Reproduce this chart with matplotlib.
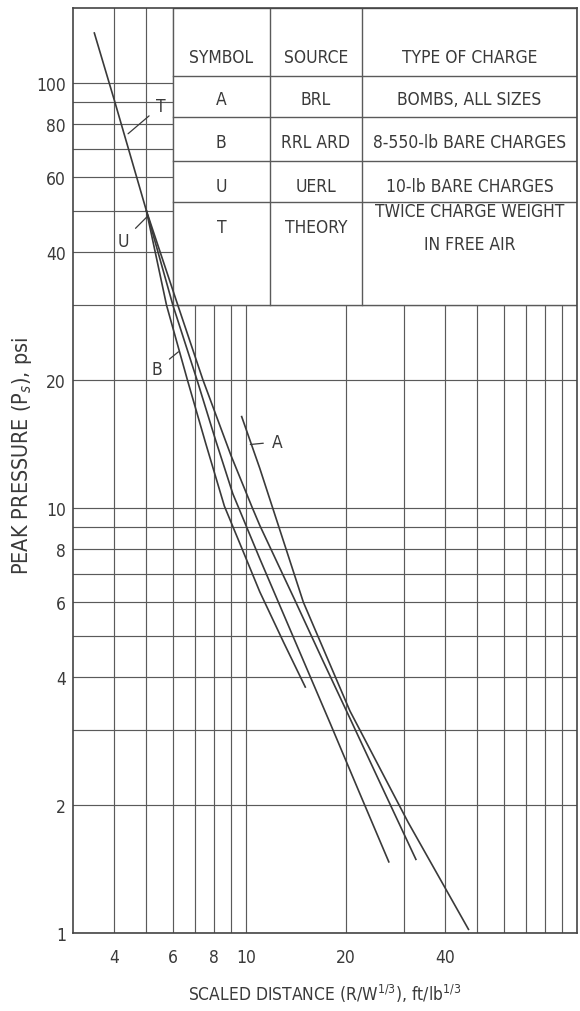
import matplotlib
matplotlib.use("Agg")
import matplotlib.pyplot as plt
import numpy as np

# scaled distance (ft/lb^1/3) and peak pressure (psi)
dist_T = [3.48, 4.0, 5.0, 6.22, 7.41, 9.0, 10.45, 11.0, 14.0, 17.0, 20.6, 26.0, 32.6]
pres_T = [131, 91, 50, 30, 20, 13.3, 10.0, 9.1, 6.1, 4.4, 3.2, 2.17, 1.49]

dist_U = [5.0, 6.01, 7.11, 8.1, 9.12, 11.0, 14.0, 18.0, 22.0, 27.0]
pres_U = [50, 30, 20, 14.4, 10.8, 7.6, 4.9, 3.1, 2.14, 1.47]

dist_B = [5.0, 5.75, 6.65, 7.55, 8.6, 9.8, 11.0, 13.0, 15.1]
pres_B = [50, 30, 20, 14.2, 10.1, 7.9, 6.35, 4.82, 3.79]

dist_A = [9.7, 11.0, 14.9, 20.6, 30.9, 47.0]
pres_A = [16.4, 12.4, 6.0, 3.33, 1.82, 1.02]

curves = [(dist_T, pres_T), (dist_U, pres_U), (dist_B, pres_B), (dist_A, pres_A)]

# curve labels: (text, text position, leader tip)
curve_labels = [
    ("T", (5.53, 88.3), (4.40, 75.9)),
    ("U", (4.25, 42.5), (5.06, 48.7)),
    ("B", (5.38, 21.2), (6.25, 23.3)),
    ("A", (12.4, 14.3), (10.3, 14.1)),
]

x_ticks = [4, 6, 8, 10, 20, 40]
y_ticks = [1, 2, 4, 6, 8, 10, 20, 40, 60, 80, 100]

table_rows = [
    ("SYMBOL", "SOURCE", "TYPE OF CHARGE"),
    ("A", "BRL", "BOMBS, ALL SIZES"),
    ("B", "RRL ARD", "8-550-lb BARE CHARGES"),
    ("U", "UERL", "10-lb BARE CHARGES"),
    ("T", "THEORY", "TWICE CHARGE WEIGHT\nIN FREE AIR"),
]

INK = "#3a3a3a"
GRID = "#5a5a5a"
plt.rcParams["font.family"] = ["DejaVu Sans"]
plt.rcParams["font.stretch"] = "condensed"
plt.rcParams["mathtext.fontset"] = "dejavusans"
FS = 12.5

fig = plt.figure(figsize=(5.8, 10.12), dpi=100)
ax = fig.add_axes([73 / 580, 1 - 934 / 1012, 504 / 580, 925 / 1012])

for xs, ys in curves:
    ax.plot(xs, ys, color=INK, lw=1.2, zorder=3)

ax.set_xscale("log")
ax.set_yscale("log")
ax.set_xlim(3, 100)
ax.set_ylim(1, 150)

ax.set_xticks(x_ticks)
ax.set_xticklabels([str(v) for v in x_ticks])
ax.set_xticks([5, 7, 9, 30, 50, 60, 70, 80, 90], minor=True)
ax.set_xticklabels([], minor=True)
ax.set_yticks(y_ticks)
ax.set_yticklabels([str(v) for v in y_ticks])
ax.set_yticks([3, 5, 7, 9, 30, 50, 70, 90], minor=True)
ax.set_yticklabels([], minor=True)
ax.tick_params(which="both", length=0, labelsize=FS, colors=INK)
ax.tick_params(axis="x", pad=11)
ax.tick_params(axis="y", pad=5)
ax.grid(True, which="both", color=GRID, lw=0.85)
ax.set_axisbelow(True)
for sp in ax.spines.values():
    sp.set_color("#444444")
    sp.set_linewidth(1.2)

# table in the upper right corner, drawn over the grid
tl, c1, c2 = 0.1977, 0.391, 0.573
tb = 0.6788
row_lines = [0.9265, 0.882, 0.8346, 0.790]
ax.add_patch(plt.Rectangle((tl, tb), 1 - tl, 1 - tb, transform=ax.transAxes,
                           facecolor="white", edgecolor=GRID, lw=1.0, zorder=2))
for xv in [c1, c2]:
    ax.plot([xv, xv], [tb, 1], transform=ax.transAxes, color=GRID, lw=1.0, zorder=2.5)
for yv in row_lines:
    ax.plot([tl, 1], [yv, yv], transform=ax.transAxes, color=GRID, lw=1.0, zorder=2.5)

col_x = [(tl + c1) / 2, (c1 + c2) / 2, (c2 + 1) / 2]
row_y = [0.947, 0.9016, 0.855, 0.8076, 0.763]
for r, row in enumerate(table_rows):
    for c, txt in enumerate(row):
        if "\n" in txt:
            top, bottom = txt.split("\n")
            ax.text(col_x[c], 0.7805, top, transform=ax.transAxes, ha="center",
                    va="center", fontsize=FS, color=INK, zorder=4)
            ax.text(col_x[c], 0.745, bottom, transform=ax.transAxes, ha="center",
                    va="center", fontsize=FS, color=INK, zorder=4)
        else:
            ax.text(col_x[c], row_y[r], txt, transform=ax.transAxes, ha="center",
                    va="center", fontsize=FS, color=INK, zorder=4)

for name, txt_pos, tip in curve_labels:
    ax.annotate(name, xy=tip, xytext=txt_pos, ha="center", va="center",
                fontsize=FS, color=INK, zorder=4,
                arrowprops=dict(arrowstyle="-", color=INK, lw=0.9, shrinkA=4, shrinkB=0))

ax.set_xlabel("SCALED DISTANCE (R/W$^{1/3}$), ft/lb$^{1/3}$", fontsize=FS,
              color=INK, labelpad=11)
ax.set_ylabel("PEAK PRESSURE (P$_s$), psi", fontsize=15.5, color=INK)
ax.yaxis.set_label_coords(-0.077, 0.517)

fig.savefig("out.png", dpi=100)
